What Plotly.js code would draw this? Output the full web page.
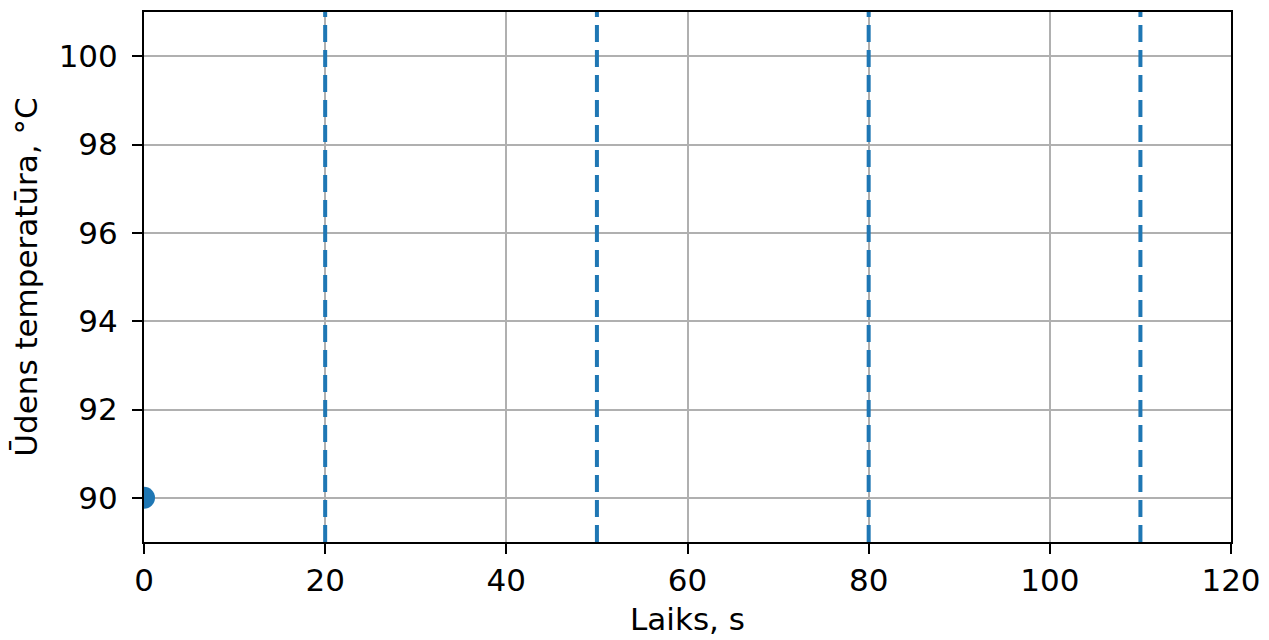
<!DOCTYPE html>
<html>
<head>
<meta charset="utf-8">
<script src="https://cdn.plot.ly/plotly-3.0.1.min.js"></script>
<style>html,body{margin:0;padding:0;background:#fff;}#chart{width:1269px;height:640px;}</style>
</head>
<body>
<div id="chart"></div>
<script>
const pointTime = [0];
const pointTemp = [90];
const markerTimes = [20, 50, 80, 110];
const xTicks = [0, 20, 40, 60, 80, 100, 120];
const yTicks = [90, 92, 94, 96, 98, 100];

const shapes = markerTimes.map(t => ({
  type: 'line', xref: 'x', yref: 'paper', x0: t, x1: t, y0: 0, y1: 1,
  line: {color: '#1f77b4', width: 4, dash: '17px,8px'}, layer: 'above'
}));

const font = {family: 'DejaVu Sans, sans-serif', size: 31, color: '#000'};

Plotly.newPlot('chart', [{
  x: pointTime, y: pointTemp, type: 'scatter', mode: 'markers',
  marker: {color: '#1f77b4', size: 22}, cliponaxis: true, showlegend: false
}], {
  width: 1269, height: 640,
  margin: {l: 144, r: 38, t: 12, b: 98},
  paper_bgcolor: '#fff', plot_bgcolor: '#fff',
  font: font,
  shapes: shapes,
  xaxis: {
    range: [0, 120], tickvals: xTicks, ticktext: xTicks.map(String),
    showgrid: true, gridcolor: '#b0b0b0', gridwidth: 2,
    zeroline: false, showline: true, linecolor: '#000', linewidth: 2, mirror: true,
    ticks: 'outside', ticklen: 10, tickwidth: 2, tickcolor: '#000',
    tickfont: font,
    title: {text: 'Laiks, s', font: font, standoff: 11}
  },
  yaxis: {
    range: [89, 101], tickvals: yTicks, ticktext: yTicks.map(String),
    showgrid: true, gridcolor: '#b0b0b0', gridwidth: 2,
    zeroline: false, showline: true, linecolor: '#000', linewidth: 2, mirror: true,
    ticks: 'outside', ticklen: 10, tickwidth: 2, tickcolor: '#000',
    tickfont: font, ticklabelstandoff: 8,
    title: {text: 'Ūdens temperatūra, °C', font: font, standoff: 12}
  }
}, {displayModeBar: false, staticPlot: true});
</script>
</body>
</html>
